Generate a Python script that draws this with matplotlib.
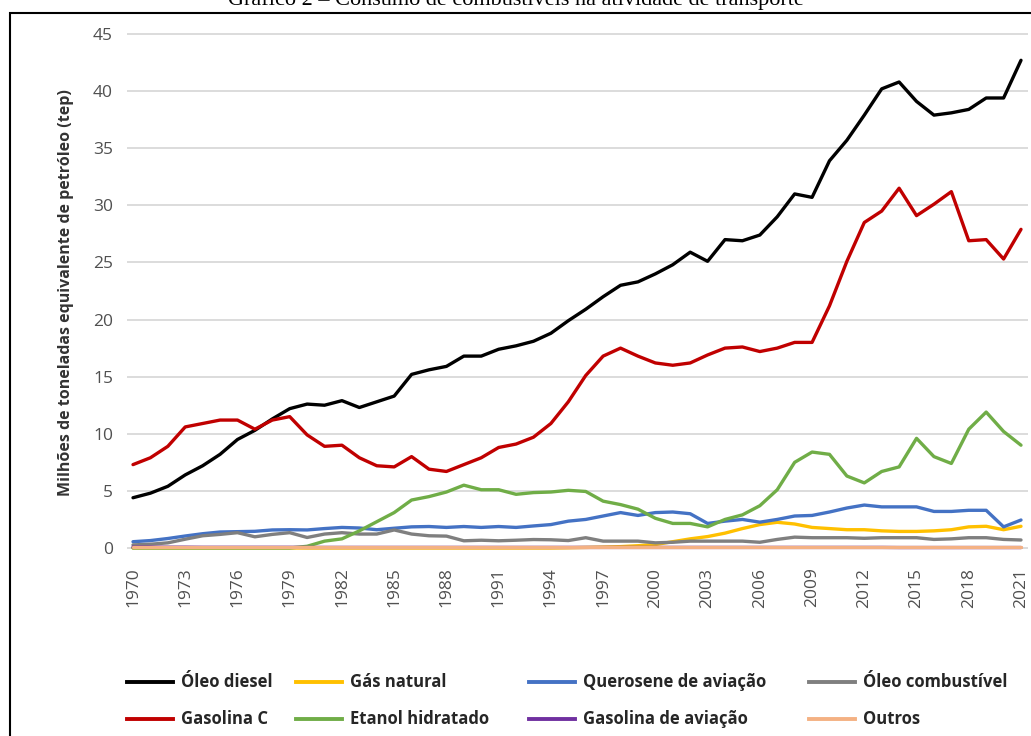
import matplotlib
matplotlib.use("Agg")
import matplotlib.pyplot as plt
from matplotlib.lines import Line2D
from matplotlib.patches import Rectangle

# --- Data (milhões de tep), 1970-2021 ---

years = list(range(1970, 2022))

oleo_diesel = [
    4.4, 4.8, 5.4, 6.4, 7.2, 8.2, 9.5, 10.3, 11.3, 12.2,
    12.6, 12.5, 12.9, 12.3, 12.8, 13.3, 15.2, 15.6, 15.9, 16.8,
    16.8, 17.4, 17.7, 18.1, 18.8, 19.9, 20.9, 22.0, 23.0, 23.3,
    24.0, 24.8, 25.9, 25.1, 27.0, 26.9, 27.4, 29.0, 31.0, 30.7,
    33.9, 35.7, 37.9, 40.2, 40.8, 39.1, 37.9, 38.1, 38.4, 39.4,
    39.4, 42.7,
]
gasolina_c = [
    7.3, 7.9, 8.9, 10.6, 10.9, 11.2, 11.2, 10.4, 11.2, 11.5,
    9.9, 8.9, 9.0, 7.9, 7.2, 7.1, 8.0, 6.9, 6.7, 7.3,
    7.9, 8.8, 9.1, 9.7, 10.9, 12.8, 15.1, 16.8, 17.5, 16.8,
    16.2, 16.0, 16.2, 16.9, 17.5, 17.6, 17.2, 17.5, 18.0, 18.0,
    21.2, 25.1, 28.5, 29.5, 31.5, 29.1, 30.1, 31.2, 26.9, 27.0,
    25.3, 27.9,
]
gas_natural = [
    0.0, 0.0, 0.0, 0.0, 0.0, 0.0, 0.0, 0.0, 0.0, 0.0,
    0.0, 0.0, 0.0, 0.0, 0.0, 0.0, 0.0, 0.0, 0.0, 0.0,
    0.0, 0.0, 0.0, 0.0, 0.0, 0.02, 0.05, 0.08, 0.12, 0.2,
    0.3, 0.55, 0.8, 1.0, 1.3, 1.7, 2.05, 2.25, 2.1, 1.8,
    1.7, 1.6, 1.6, 1.5, 1.45, 1.45, 1.5, 1.6, 1.85, 1.9,
    1.6, 1.9,
]
querosene = [
    0.55, 0.65, 0.83, 1.05, 1.25, 1.4, 1.43, 1.46, 1.58, 1.6,
    1.58, 1.7, 1.8, 1.75, 1.6, 1.73, 1.85, 1.88, 1.8, 1.88,
    1.8, 1.88, 1.8, 1.93, 2.05, 2.35, 2.5, 2.8, 3.1, 2.85,
    3.1, 3.15, 3.0, 2.15, 2.35, 2.5, 2.26, 2.5, 2.8, 2.85,
    3.15, 3.5, 3.76, 3.6, 3.6, 3.6, 3.2, 3.2, 3.3, 3.3,
    1.85, 2.45,
]
oleo_combustivel = [
    0.27, 0.33, 0.45, 0.77, 1.07, 1.19, 1.34, 0.98, 1.19, 1.34,
    0.92, 1.22, 1.34, 1.22, 1.22, 1.58, 1.22, 1.07, 1.04, 0.63,
    0.68, 0.63, 0.68, 0.74, 0.72, 0.65, 0.9, 0.6, 0.6, 0.6,
    0.45, 0.5, 0.6, 0.6, 0.6, 0.6, 0.5, 0.75, 0.95, 0.9,
    0.9, 0.9, 0.85, 0.9, 0.9, 0.9, 0.75, 0.8, 0.9, 0.9,
    0.75, 0.7,
]
etanol_hidratado = [
    0.0, 0.0, 0.0, 0.0, 0.0, 0.0, 0.0, 0.0, 0.0, 0.0,
    0.15, 0.6, 0.8, 1.5, 2.3, 3.1, 4.2, 4.5, 4.9, 5.5,
    5.1, 5.1, 4.7, 4.85, 4.9, 5.05, 4.95, 4.1, 3.8, 3.4,
    2.6, 2.15, 2.15, 1.85, 2.5, 2.9, 3.7, 5.1, 7.5, 8.4,
    8.2, 6.3, 5.7, 6.7, 7.1, 9.6, 8.0, 7.4, 10.4, 11.9,
    10.2, 9.0,
]
gasolina_aviacao = [
    0.08, 0.08, 0.07, 0.07, 0.06, 0.06, 0.06, 0.06, 0.06, 0.06,
    0.05, 0.05, 0.05, 0.05, 0.05, 0.05, 0.05, 0.05, 0.05, 0.05,
    0.05, 0.05, 0.05, 0.05, 0.05, 0.05, 0.05, 0.05, 0.05, 0.05,
    0.05, 0.05, 0.05, 0.05, 0.05, 0.05, 0.05, 0.05, 0.05, 0.05,
    0.05, 0.05, 0.05, 0.05, 0.04, 0.04, 0.04, 0.04, 0.04, 0.04,
    0.04, 0.04,
]
outros = [
    0.1, 0.1, 0.1, 0.1, 0.1, 0.1, 0.1, 0.1, 0.1, 0.1,
    0.1, 0.1, 0.1, 0.1, 0.1, 0.1, 0.1, 0.1, 0.1, 0.1,
    0.1, 0.1, 0.1, 0.1, 0.1, 0.1, 0.1, 0.1, 0.1, 0.1,
    0.1, 0.1, 0.1, 0.1, 0.1, 0.1, 0.1, 0.1, 0.1, 0.1,
    0.1, 0.1, 0.1, 0.1, 0.1, 0.1, 0.1, 0.1, 0.1, 0.1,
    0.1, 0.1,
]

# series in Excel order (later ones drawn on top)
series = [
    ("Óleo diesel", oleo_diesel, "#000000"),
    ("Gás natural", gas_natural, "#FFC000"),
    ("Querosene de aviação", querosene, "#4472C4"),
    ("Óleo combustível", oleo_combustivel, "#7F7F7F"),
    ("Gasolina C", gasolina_c, "#C00000"),
    ("Etanol hidratado", etanol_hidratado, "#70AD47"),
    ("Gasolina de aviação", gasolina_aviacao, "#7030A0"),
    ("Outros", outros, "#F4B183"),
]

xtick_years = list(range(1970, 2022, 3))
ytick_values = list(range(0, 46, 5))

W, H = 1031, 736
plt.rcParams["font.family"] = ["Open Sans", "DejaVu Sans"]

fig = plt.figure(figsize=(W / 100, H / 100), dpi=100)

# axes box in pixels (top-left origin)
left, right, top, bottom = 127, 1028, 30.6, 553.7
ax = fig.add_axes([left / W, 1 - bottom / H, (right - left) / W, (bottom - top) / H])

for name, vals, color in series:
    ax.plot(years, vals, color=color, lw=2.4, solid_joinstyle="round",
            solid_capstyle="round", label=name, zorder=3)

ax.set_xlim(1969.655, 2021.402)
ax.set_ylim(-0.5, 45.3)
ax.set_yticks(ytick_values)
ax.set_xticks(xtick_years)
ax.set_xticklabels([str(y) for y in xtick_years], rotation=90)
ax.yaxis.grid(True, color="#D9D9D9", lw=1.3, zorder=0)
ax.set_axisbelow(True)
for s in ax.spines.values():
    s.set_visible(False)
ax.tick_params(axis="y", length=0, pad=10, labelsize=12.5, labelcolor="#505050")
ax.tick_params(axis="x", length=0, pad=10, labelsize=12.5, labelcolor="#505050")

ax.set_ylabel("Milhões de toneladas equivalente de petróleo (tep)",
              fontsize=11.5, fontweight="bold", color="#333333", labelpad=14)

# legend laid out like the original (4 columns x 2 rows)
col_x = [127, 296, 529, 809]
row_y = [682, 719]
legend_grid = [
    [0, 4],  # Óleo diesel / Gasolina C
    [1, 5],  # Gás natural / Etanol hidratado
    [2, 6],  # Querosene / Gasolina de aviação
    [3, 7],  # Óleo combustível / Outros
]
for ci, rows in enumerate(legend_grid):
    for ri, idx in enumerate(rows):
        name, _, color = series[idx]
        x0 = col_x[ci]
        y0 = 1 - row_y[ri] / H
        fig.add_artist(Line2D([x0 / W, (x0 + 46) / W], [y0, y0], color=color,
                              lw=2.8, transform=fig.transFigure))
        fig.text((x0 + 54) / W, y0, name, fontsize=12, fontweight="bold",
                 color="#262626", va="center", ha="left")

# outer frame (cut off on the right and bottom)
fig.add_artist(Rectangle((9.5 / W, -0.05), 1.2, 1 - 13 / H + 0.05,
                         transform=fig.transFigure, fill=False,
                         edgecolor="#000000", lw=1.5))

fig.text(0.5, 1 - 5 / H, "Gráfico 2 – Consumo de combustíveis na atividade de transporte",
         family=["Liberation Serif", "DejaVu Serif"], fontsize=16,
         ha="center", va="baseline", color="#000000")

fig.savefig("out.png", dpi=100)
